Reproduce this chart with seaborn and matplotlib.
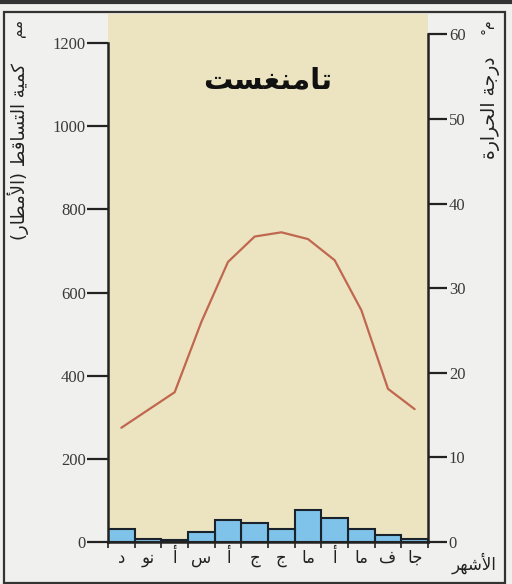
import numpy as np
import pandas as pd
import matplotlib
matplotlib.use("Agg")
import matplotlib.pyplot as plt
from matplotlib.patches import Rectangle
from matplotlib.lines import Line2D
import seaborn as sns

sns.set_theme(style="white")
plt.rcParams['font.family'] = ['DejaVu Sans']

# months 1..12, drawn right to left (January on the right)
month_num = [1, 2, 3, 4, 5, 6, 7, 8, 9, 10, 11, 12]
month_labels = ["جا", "ف", "ما", "أ", "ما", "ج", "ج", "أ", "س", "أ", "نو", "د"]
precip = [8, 18, 32, 58, 76, 32, 46, 52, 24, 4, 8, 32]          # mm
temp = [15.7, 18.1, 27.4, 33.3, 35.8, 36.6, 36.1, 33.1, 26.0, 17.7, 15.6, 13.5]  # °C
precip_ticks = [0, 200, 400, 600, 800, 1000, 1200]
temp_ticks = [0, 10, 20, 30, 40, 50, 60]

title = "تامنغست"
left_label = "كمية التساقط (الأمطار)"
right_label = "درجة الحرارة"
x_label = "الأشهر"

# --- tiny arabic shaper (matplotlib has no shaping / bidi) ---
FORMS = {  # isolated, final, initial, medial
    'ا': (0xFE8D, 0xFE8E, None, None), 'أ': (0xFE83, 0xFE84, None, None),
    'ة': (0xFE93, 0xFE94, None, None), 'ت': (0xFE95, 0xFE96, 0xFE97, 0xFE98),
    'ج': (0xFE9D, 0xFE9E, 0xFE9F, 0xFEA0), 'ح': (0xFEA1, 0xFEA2, 0xFEA3, 0xFEA4),
    'د': (0xFEA9, 0xFEAA, None, None), 'ر': (0xFEAD, 0xFEAE, None, None),
    'س': (0xFEB1, 0xFEB2, 0xFEB3, 0xFEB4), 'ش': (0xFEB5, 0xFEB6, 0xFEB7, 0xFEB8),
    'ط': (0xFEC1, 0xFEC2, 0xFEC3, 0xFEC4), 'غ': (0xFECD, 0xFECE, 0xFECF, 0xFED0),
    'ف': (0xFED1, 0xFED2, 0xFED3, 0xFED4), 'ق': (0xFED5, 0xFED6, 0xFED7, 0xFED8),
    'ك': (0xFED9, 0xFEDA, 0xFEDB, 0xFEDC), 'ل': (0xFEDD, 0xFEDE, 0xFEDF, 0xFEE0),
    'م': (0xFEE1, 0xFEE2, 0xFEE3, 0xFEE4), 'ن': (0xFEE5, 0xFEE6, 0xFEE7, 0xFEE8),
    'ه': (0xFEE9, 0xFEEA, 0xFEEB, 0xFEEC), 'و': (0xFEED, 0xFEEE, None, None),
    'ي': (0xFEF1, 0xFEF2, 0xFEF3, 0xFEF4),
}
LAM_ALEF = {'ا': (0xFEFB, 0xFEFC), 'أ': (0xFEF7, 0xFEF8)}


def dual(c):
    return c in FORMS and FORMS[c][2] is not None


def shape(s):
    out = []
    i = 0
    while i < len(s):
        c = s[i]
        prev = s[i - 1] if i > 0 else ''
        join_prev = dual(prev)
        if c not in FORMS:
            out.append({'(': ')', ')': '('}.get(c, c))
            i += 1
            continue
        if c == 'ل' and i + 1 < len(s) and s[i + 1] in LAM_ALEF:
            out.append(chr(LAM_ALEF[s[i + 1]][1 if join_prev else 0]))
            i += 2
            continue
        nxt = s[i + 1] if i + 1 < len(s) else ''
        join_next = dual(c) and nxt in FORMS
        f = FORMS[c]
        if join_prev and join_next:
            g = f[3]
        elif join_prev:
            g = f[1]
        elif join_next:
            g = f[2]
        else:
            g = f[0]
        out.append(chr(g))
        i += 1
    return ''.join(reversed(out))


df = pd.DataFrame({'month': month_num, 'precip': precip, 'temp': temp})

fig = plt.figure(figsize=(5.12, 5.84), dpi=100, facecolor='#f0f0ee')
ax = fig.add_axes([108 / 512, 42 / 584, 320 / 512, 528 / 584])
ax.set_facecolor('#ece4c0')

sns.barplot(data=df, x='month', y='precip', native_scale=True, width=1,
            color='#7fc2ea', saturation=1, edgecolor='#1a232b', linewidth=1.5, ax=ax)
ax.set_ylim(0, 1270)
ax.set_xlim(12.5, 0.5)

ax2 = ax.twinx()
sns.lineplot(data=df, x='month', y='temp', color='#c0674f', linewidth=1.6, ax=ax2)
ax2.set_ylim(0, 62.4)
ax2.set_xlim(12.5, 0.5)

for a in (ax, ax2):
    a.set_xlabel('')
    a.set_ylabel('')
    a.grid(False)
    a.spines['top'].set_visible(False)
    for sp in a.spines.values():
        sp.set_color('#222222')
        sp.set_linewidth(1.8)

ax.spines['right'].set_visible(False)
ax2.spines['left'].set_visible(False)
ax2.spines['bottom'].set_visible(False)
ax.spines['left'].set_bounds(0, 1200)
ax2.spines['right'].set_bounds(0, 60)

ax.set_yticks(precip_ticks)
ax.set_yticklabels([str(t) for t in precip_ticks], fontfamily='Liberation Serif',
                   fontsize=12, color='#3a3a3a')
ax.tick_params(axis='y', left=True, length=15, width=1.6, color='#222222', pad=1)

ax2.set_yticks(temp_ticks)
ax2.set_yticklabels([str(t) for t in temp_ticks], fontfamily='Liberation Serif',
                    fontsize=12, color='#3a3a3a')
ax2.tick_params(axis='y', right=True, length=14, width=1.6, color='#222222', pad=1)

ax.set_xticks(month_num)
ax.set_xticklabels([shape(m) for m in month_labels], fontsize=12, color='#222222')
ax.set_xticks(np.arange(0.5, 13, 1), minor=True)
ax.tick_params(axis='x', which='major', bottom=False, length=0, pad=5)
ax.tick_params(axis='x', which='minor', bottom=True, length=4, width=1.2, color='#222222')
ax2.tick_params(axis='x', bottom=False, labelbottom=False)

ax.text(0.5, 0.875, shape(title), transform=ax.transAxes, ha='center', va='center',
        fontsize=21, fontweight='bold', color='#111111')

fig.text(18 / 512, 1 - 152 / 584, shape(left_label), rotation=90, ha='center', va='center',
         fontsize=13, color='#222222')
fig.text(18 / 512, 1 - 28 / 584, shape('مم'), rotation=90, ha='center', va='center',
         fontsize=11, color='#222222')
fig.text(490 / 512, 1 - 108 / 584, shape(right_label), rotation=90, ha='center', va='center',
         fontsize=13.5, color='#222222')
fig.text(487 / 512, 1 - 26 / 584, '°' + shape('م'), rotation=90, ha='center', va='center',
         fontsize=10, color='#222222')
fig.text(474 / 512, 1 - 563 / 584, shape(x_label), ha='center', va='center',
         fontsize=12, color='#222222')

# picture frame
fig.add_artist(Rectangle((4 / 512, 1 / 584), 501 / 512, 571 / 584, transform=fig.transFigure,
                         fill=False, edgecolor='#333333', linewidth=1.6))
fig.add_artist(Line2D([0, 1], [1 - 2 / 584, 1 - 2 / 584], transform=fig.transFigure,
                      color='#333333', linewidth=3))

fig.savefig('out.png', dpi=100, facecolor=fig.get_facecolor())
